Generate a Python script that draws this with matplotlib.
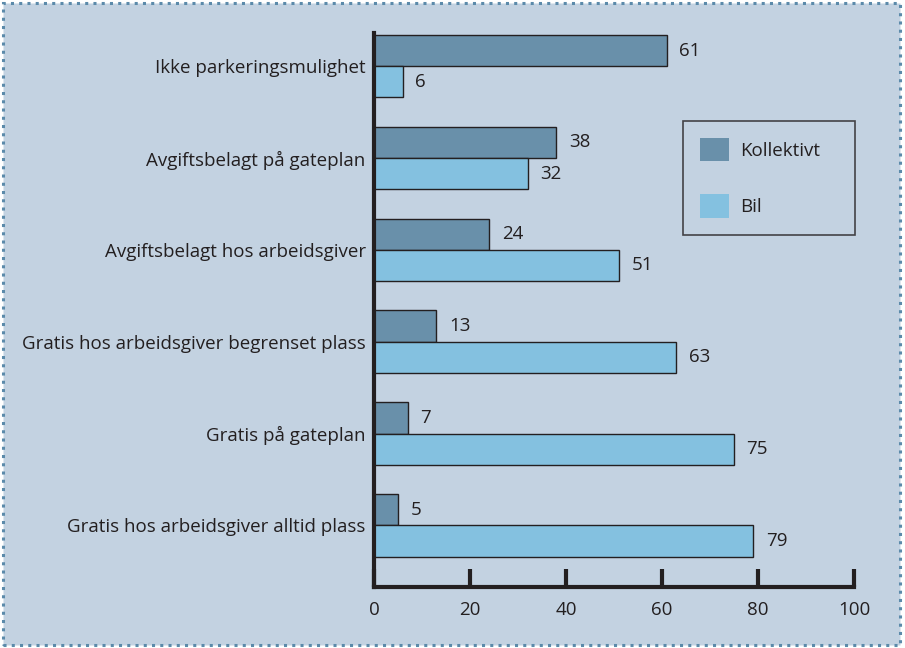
import matplotlib
matplotlib.use("Agg")
import matplotlib.pyplot as plt
from matplotlib.patches import Rectangle, Patch
import numpy as np

plt.rcParams["font.family"] = ["Open Sans", "DejaVu Sans"]

categories = ["Ikke parkeringsmulighet", "Avgiftsbelagt på gateplan",
              "Avgiftsbelagt hos arbeidsgiver",
              "Gratis hos arbeidsgiver begrenset plass", "Gratis på gateplan",
              "Gratis hos arbeidsgiver alltid plass"]
kollektivt = [61, 38, 24, 13, 7, 5]
bil = [6, 32, 51, 63, 75, 79]
series_names = ["Kollektivt", "Bil"]

BG = "#c3d2e1"
C_KOLL = "#6990aa"
C_BIL = "#84c1e0"
TXT = "#231f20"
FS = 13.5

fig = plt.figure(figsize=(9.05, 6.48), dpi=100)
fig.patch.set_facecolor("white")
fig.patches.append(Rectangle((0.003, 0.005), 0.991, 0.99, transform=fig.transFigure,
                             facecolor=BG, edgecolor="#5b8aaa", lw=2.2,
                             ls=(0, (1, 1.7)), zorder=-1))
ax = fig.add_axes([0.4133, 0.0941, 0.5303, 0.8549])
ax.set_facecolor("none")

y = np.arange(len(categories))
h = 0.34
ax.barh(y - h / 2, kollektivt, height=h, color=C_KOLL, edgecolor=TXT, lw=1)
ax.barh(y + h / 2, bil, height=h, color=C_BIL, edgecolor=TXT, lw=1)
for yi, v in zip(y - h / 2, kollektivt):
    ax.annotate(str(v), (v, yi), xytext=(9, 0), textcoords="offset points",
                va="center", ha="left", fontsize=FS, color=TXT)
for yi, v in zip(y + h / 2, bil):
    ax.annotate(str(v), (v, yi), xytext=(9, 0), textcoords="offset points",
                va="center", ha="left", fontsize=FS, color=TXT)

ax.set_xlim(0, 100)
ax.set_ylim(5.67, -0.36)
ax.set_xticks(range(0, 101, 20))
ax.set_yticks(y)
ax.set_yticklabels(categories)
ax.tick_params(axis="x", direction="in", length=13, width=3, color=TXT,
               labelsize=FS, labelcolor=TXT, pad=10)
ax.tick_params(axis="y", length=0, labelsize=FS, labelcolor=TXT, pad=6)
for s in ["top", "right"]:
    ax.spines[s].set_visible(False)
for s in ["left", "bottom"]:
    ax.spines[s].set_linewidth(3)
    ax.spines[s].set_color(TXT)

handles = [Patch(facecolor=C_KOLL, edgecolor="none"),
           Patch(facecolor=C_BIL, edgecolor="none")]
leg = ax.legend(handles, series_names, loc="upper left",
                bbox_to_anchor=(0.644, 0.841, 0.358, 0), mode="expand",
                fontsize=FS, frameon=True,
                fancybox=False, handlelength=1.55, handleheight=1.55,
                labelspacing=1.75, borderpad=0.9, handletextpad=0.6,
                borderaxespad=0)
leg.get_frame().set_facecolor(BG)
leg.get_frame().set_edgecolor(TXT)
leg.get_frame().set_linewidth(1.2)
for t in leg.get_texts():
    t.set_color(TXT)

fig.savefig("out.png", dpi=100, facecolor=fig.get_facecolor())
